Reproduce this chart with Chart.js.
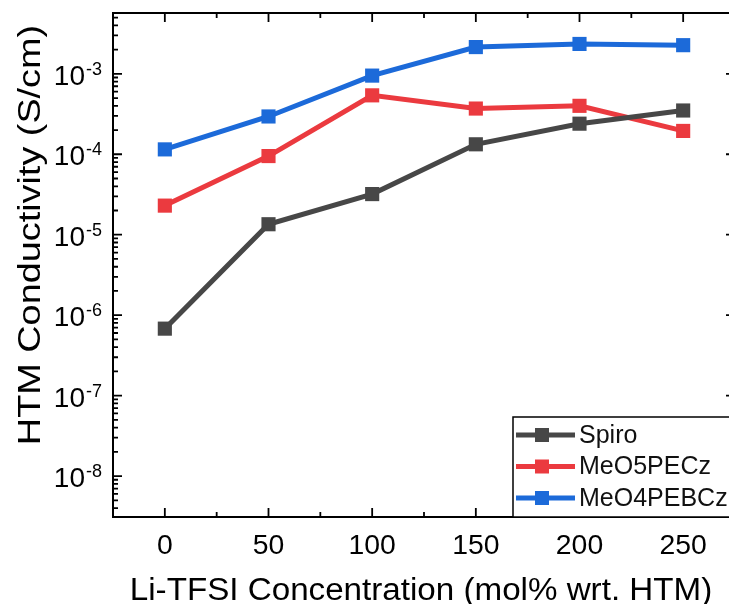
<!DOCTYPE html>
<html>
<head>
<meta charset="utf-8">
<script src="https://cdn.jsdelivr.net/npm/chart.js@4/dist/chart.umd.min.js"></script>
<style>
  html, body { margin: 0; padding: 0; background: #fff; overflow: hidden; }
  #wrap { width: 745px; height: 604px; }
</style>
</head>
<body>
<div id="wrap"><canvas id="cond" width="745" height="604"></canvas></div>
<script>
// Li-TFSI doping level (mol% wrt. HTM)
const liTfsi = [0, 50, 100, 150, 200, 250];

// conductivity, S/cm
const spiro     = [6.8e-7, 1.35e-5, 3.2e-5, 1.33e-4, 2.4e-4, 3.5e-4];
const meo5pecz  = [2.3e-5, 9.5e-5, 5.4e-4, 3.7e-4, 4.0e-4, 1.95e-4];
const meo4pebcz = [1.15e-4, 2.95e-4, 9.5e-4, 2.15e-3, 2.35e-3, 2.27e-3];

const xTicks = [0, 50, 100, 150, 200, 250];
const xMinor = [25, 75, 125, 175, 225];
const yExps  = [-8, -7, -6, -5, -4, -3];

const seriesNames  = ['Spiro', 'MeO5PECz', 'MeO4PEBCz'];
const seriesColors = ['#474747', '#eb3a3f', '#1c6ad9'];

const FONT = '"Liberation Sans", Arial, sans-serif';

const mkSet = (label, data, color) => ({
    label: label,
    data: liTfsi.map((x, i) => ({ x: x, y: data[i] })),
    borderColor: color,
    backgroundColor: color,
    borderWidth: 5,
    pointStyle: 'rect',
    pointRadius: 10,
    pointHoverRadius: 10,
    pointBorderWidth: 0,
    tension: 0,
});

// text drawn a little wider than the font's natural width
function wideText(ctx, str, x, y, sx) {
    ctx.save();
    ctx.translate(x, y);
    ctx.scale(sx, 1);
    ctx.fillText(str, 0, 0);
    ctx.restore();
}

// frame, inward ticks, tick labels, titles and legend box
const axesPlugin = {
    id: 'originAxes',
    afterDatasetsDraw(chart) {
        const ctx = chart.ctx;
        const a = chart.chartArea;
        const xs = chart.scales.x, ys = chart.scales.y;
        ctx.save();
        ctx.strokeStyle = '#000';
        ctx.fillStyle = '#000';
        ctx.lineWidth = 2;
        ctx.strokeRect(a.left, a.top, a.right - a.left, a.bottom - a.top);

        ctx.lineWidth = 1.8;
        ctx.beginPath();
        // x ticks top and bottom
        xTicks.forEach(v => {
            const px = xs.getPixelForValue(v);
            ctx.moveTo(px, a.bottom); ctx.lineTo(px, a.bottom - 9);
            ctx.moveTo(px, a.top); ctx.lineTo(px, a.top + 9);
        });
        xMinor.forEach(v => {
            const px = xs.getPixelForValue(v);
            ctx.moveTo(px, a.bottom); ctx.lineTo(px, a.bottom - 5);
            ctx.moveTo(px, a.top); ctx.lineTo(px, a.top + 5);
        });
        // y ticks, left and right, majors at decades
        for (let e = -9; e <= -2; e++) {
            for (let m = 1; m <= 9; m++) {
                const v = m * Math.pow(10, e);
                if (v < ys.min || v > ys.max) continue;
                const py = ys.getPixelForValue(v);
                const len = m === 1 ? 9 : 5;
                ctx.moveTo(a.left, py); ctx.lineTo(a.left + len, py);
                ctx.moveTo(a.right, py); ctx.lineTo(a.right - len, py);
            }
        }
        ctx.stroke();

        // x tick labels
        ctx.font = '27px ' + FONT;
        ctx.textAlign = 'center';
        ctx.textBaseline = 'alphabetic';
        xTicks.forEach(v => wideText(ctx, String(v), xs.getPixelForValue(v), a.bottom + 37, 1.05));

        // y tick labels as 10^n
        yExps.forEach(e => {
            const py = ys.getPixelForValue(Math.pow(10, e));
            ctx.font = '18px ' + FONT;
            const sup = String(e);
            const supW = ctx.measureText(sup).width;
            ctx.textAlign = 'right';
            ctx.fillText(sup, a.left - 11, py + 1);
            ctx.font = '28px ' + FONT;
            ctx.fillText('10', a.left - 12 - supW, py + 11);
        });

        // axis titles
        ctx.font = '31px ' + FONT;
        ctx.textAlign = 'center';
        wideText(ctx, 'Li-TFSI Concentration (mol% wrt. HTM)', 421, 600, 1.07);
        ctx.save();
        ctx.translate(40, 235);
        ctx.rotate(-Math.PI / 2);
        wideText(ctx, 'HTM Conductivity (S/cm)', 0, 0, 1.22);
        ctx.restore();

        // legend
        const lx = 513, ly = 417;
        ctx.fillStyle = '#fff';
        ctx.fillRect(lx, ly, a.right - lx, a.bottom - ly);
        ctx.lineWidth = 1.5;
        ctx.strokeStyle = '#000';
        ctx.strokeRect(lx, ly, a.right - lx, a.bottom - ly);
        ctx.font = '25px ' + FONT;
        ctx.textAlign = 'left';
        ctx.textBaseline = 'middle';
        seriesNames.forEach((name, i) => {
            const yy = 435 + i * 31.5;
            ctx.strokeStyle = seriesColors[i];
            ctx.fillStyle = seriesColors[i];
            ctx.lineWidth = 5;
            ctx.beginPath();
            ctx.moveTo(516, yy); ctx.lineTo(575, yy);
            ctx.stroke();
            ctx.fillRect(542 - 7, yy - 7, 14, 14);
            ctx.fillStyle = '#111';
            ctx.fillText(name, 579, yy + 1);
        });
        ctx.restore();
    }
};

new Chart(document.getElementById('cond'), {
    type: 'line',
    data: {
        datasets: [
            mkSet(seriesNames[0], spiro, seriesColors[0]),
            mkSet(seriesNames[1], meo5pecz, seriesColors[1]),
            mkSet(seriesNames[2], meo4pebcz, seriesColors[2]),
        ],
    },
    options: {
        responsive: false,
        animation: false,
        events: [],
        layout: { padding: { left: 113, top: 13, right: 10, bottom: 87 } },
        plugins: { legend: { display: false }, tooltip: { enabled: false } },
        scales: {
            x: { type: 'linear', min: -25, max: 275, display: false },
            y: { type: 'logarithmic', min: 3.1e-9, max: 5.7e-3, display: false },
        },
    },
    plugins: [axesPlugin],
});
</script>
</body>
</html>
